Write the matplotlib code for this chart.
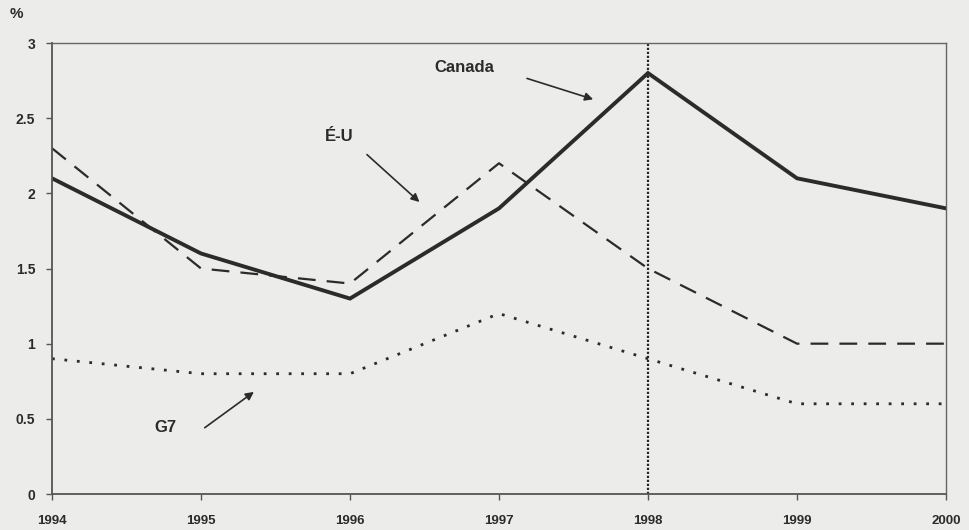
import matplotlib
matplotlib.use("Agg")
import matplotlib.pyplot as plt

years = [1994, 1995, 1996, 1997, 1998, 1999, 2000]
canada = [2.1, 1.6, 1.3, 1.9, 2.8, 2.1, 1.9]
usa = [2.3, 1.5, 1.4, 2.2, 1.5, 1.0, 1.0]
g7 = [0.9, 0.8, 0.8, 1.2, 0.9, 0.6, 0.6]
yticks = [0, 0.5, 1, 1.5, 2, 2.5, 3]
ytick_labels = ["0", "0.5", "1", "1.5", "2", "2.5", "3"]

plt.rcParams['font.family'] = ['Liberation Sans', 'DejaVu Sans']
bg = "#ececea"
ink = "#2b2b2b"

fig = plt.figure(figsize=(9.7, 5.3), dpi=100, facecolor=bg)
ax = fig.add_axes([52/970, 36/530, (946-52)/970, (494-43)/530], facecolor=bg)

ax.plot(years, canada, color=ink, lw=2.8, solid_joinstyle='miter')
ax.plot(years, usa, color=ink, lw=1.6, linestyle=(0, (8, 5)))
ax.plot(years, g7, color=ink, lw=2.0, linestyle=(0, (1, 3.5)))
ax.axvline(1998, color=ink, lw=1.6, linestyle=(0, (1, 0.8)))

ax.set_xlim(1994, 2000)
ax.set_ylim(0, 3)
ax.set_xticks(years)
ax.set_xticklabels([str(y) for y in years], fontsize=9.5, fontweight='bold', color=ink)
ax.set_yticks(yticks)
ax.set_yticklabels(ytick_labels, fontsize=10, fontweight='bold', color=ink)
ax.tick_params(axis='x', direction='out', length=4, width=1, color='#555555', pad=11)
ax.tick_params(axis='y', direction='out', length=4, width=1, color='#555555', pad=8)
for side in ['left', 'bottom']:
    ax.spines[side].set_color('#555555')
    ax.spines[side].set_linewidth(1.3)
for side in ['top', 'right']:
    ax.spines[side].set_color('#666666')
    ax.spines[side].set_linewidth(1.0)

fig.text(10/970, 1 - 14/530, "%", fontsize=11, fontweight='bold', color=ink, va='center')

arrowprops = dict(arrowstyle='-|>', color=ink, lw=1.2, mutation_scale=12)
ax.annotate("", xy=(1997.65, 2.62), xytext=(1997.17, 2.77), arrowprops=arrowprops)
ax.text(1996.77, 2.84, "Canada", fontsize=12, fontweight='bold', color=ink, ha='center', va='center')
ax.annotate("", xy=(1996.48, 1.93), xytext=(1996.10, 2.27), arrowprops=arrowprops)
ax.text(1995.93, 2.38, "É-U", fontsize=12, fontweight='bold', color=ink, ha='center', va='center')
ax.annotate("", xy=(1995.37, 0.69), xytext=(1995.01, 0.43), arrowprops=arrowprops)
ax.text(1994.76, 0.44, "G7", fontsize=12, fontweight='bold', color=ink, ha='center', va='center')

fig.savefig("out.png", dpi=100, facecolor=bg)
